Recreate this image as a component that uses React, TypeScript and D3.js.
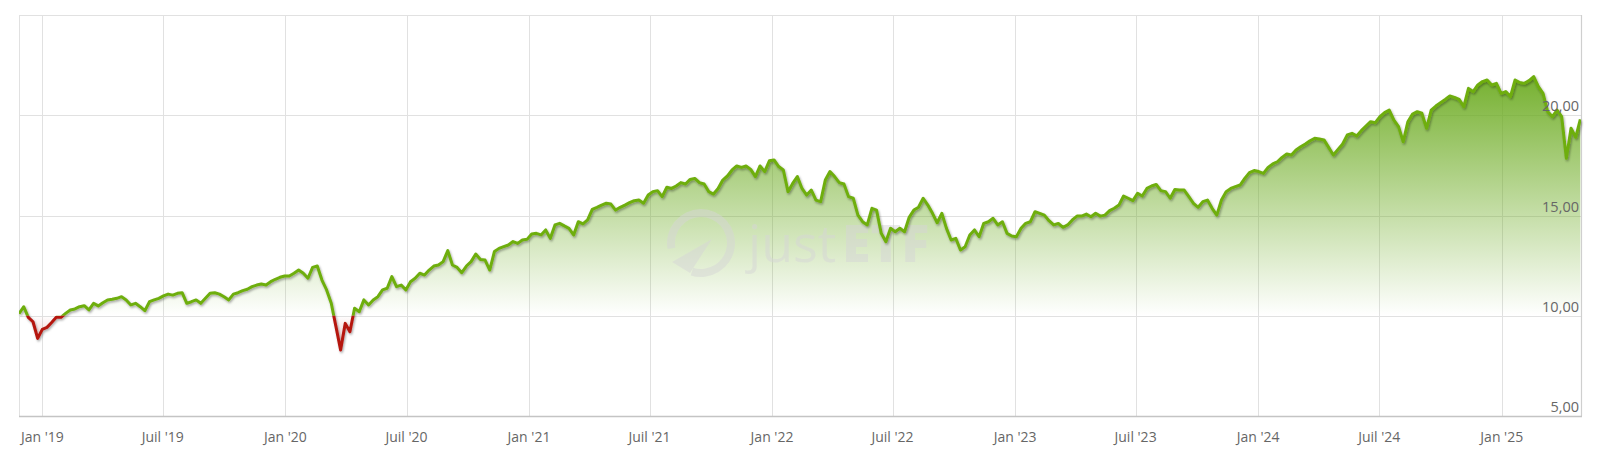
import React from "react";
import * as d3 from "d3";

// ---- data (weekly closes) ----
const START_DATE = "2018-11-27";
const END_DATE = "2025-04-30";
const BASELINE = 10;

const weeklyValues: number[] = [
  10.1, 10.45, 9.92, 9.7, 8.87, 9.32, 9.42, 9.66, 9.92, 9.92,
  10.12, 10.29, 10.34, 10.45, 10.5, 10.29, 10.62, 10.49, 10.65, 10.79,
  10.82, 10.87, 10.95, 10.79, 10.54, 10.62, 10.45, 10.25, 10.7, 10.79,
  10.87, 10.99, 11.08, 11.03, 11.12, 11.15, 10.62, 10.7, 10.79, 10.62,
  10.87, 11.12, 11.15, 11.08, 10.95, 10.79, 11.08, 11.15, 11.25, 11.32,
  11.45, 11.53, 11.58, 11.53, 11.7, 11.82, 11.92, 11.98, 11.98, 12.12,
  12.28, 12.12, 11.87, 12.41, 12.48, 11.78, 11.29, 10.62, 9.46, 8.29,
  9.62, 9.2, 10.37, 10.2, 10.79, 10.54, 10.79, 10.95, 11.29, 11.37,
  11.95, 11.45, 11.53, 11.29, 11.7, 11.87, 12.12, 12.03, 12.28, 12.48,
  12.53, 12.7, 13.25, 12.53, 12.41, 12.15, 12.48, 12.7, 13.08, 12.81,
  12.78, 12.28, 13.2, 13.36, 13.45, 13.53, 13.7, 13.61, 13.78, 13.81,
  14.08, 14.11, 14.03, 14.28, 13.86, 14.53, 14.61, 14.48, 14.36, 14.03,
  14.69, 14.58, 14.78, 15.31, 15.41, 15.52, 15.61, 15.57, 15.27, 15.41,
  15.52, 15.64, 15.74, 15.77, 15.61, 16.02, 16.19, 16.24, 15.94, 16.41,
  16.35, 16.47, 16.64, 16.57, 16.8, 16.85, 16.64, 16.57, 16.19, 16.07,
  16.35, 16.77, 16.97, 17.27, 17.47, 17.4, 17.47, 17.3, 16.94, 17.47,
  17.19, 17.73, 17.77, 17.44, 17.27, 16.19, 16.6, 16.94, 16.35, 16.02,
  16.27, 15.77, 15.69, 16.77, 17.19, 16.94, 16.64, 16.57, 15.94, 15.86,
  15.02, 14.69, 14.53, 15.36, 15.27, 14.11, 13.69, 14.36, 14.19, 14.36,
  14.19, 14.91, 15.27, 15.41, 15.86, 15.52, 15.11, 14.64, 15.11, 14.36,
  13.78, 13.86, 13.28, 13.44, 14.03, 14.28, 13.94, 14.61, 14.69, 14.86,
  14.53, 14.69, 14.11, 13.98, 13.94, 14.36, 14.61, 14.69, 15.19, 15.11,
  15.02, 14.74, 14.53, 14.6, 14.41, 14.53, 14.78, 14.97, 14.97, 15.07,
  14.94, 15.11, 14.97, 15.02, 15.24, 15.36, 15.52, 15.97, 15.86, 15.74,
  16.11, 15.97, 16.35, 16.47, 16.55, 16.24, 16.19, 15.86, 16.3, 16.27,
  16.27, 15.94, 15.61, 15.41, 15.69, 15.77, 15.36, 15.02, 15.77, 16.19,
  16.35, 16.44, 16.52, 16.85, 17.14, 17.24, 17.19, 17.1, 17.4, 17.57,
  17.68, 17.9, 18.07, 18.02, 18.27, 18.43, 18.57, 18.73, 18.85, 18.82,
  18.77, 18.4, 18.02, 18.3, 18.57, 19.02, 19.1, 18.97, 19.23, 19.46,
  19.68, 19.63, 19.93, 20.13, 20.26, 19.76, 19.43, 18.68, 19.68, 20.06,
  20.18, 20.1, 19.35, 20.26, 20.46, 20.63, 20.79, 20.96, 20.89, 20.79,
  20.43, 21.34, 21.18, 21.51, 21.68, 21.76, 21.51, 21.59, 21.09, 21.18,
  20.93, 21.76, 21.63, 21.59, 21.73, 21.93, 21.43, 21.09, 20.18, 19.93,
  20.26, 19.93, 17.85, 19.35, 18.9, 19.8,
];

const yTickValues = [5, 10, 15, 20];
const yTickLabels = ["5,00", "10,00", "15,00", "20,00"];
const Y_DOMAIN = [5, 25];

const xTickDates = [
  "2019-01-01", "2019-07-01", "2020-01-01", "2020-07-01", "2021-01-01",
  "2021-07-01", "2022-01-01", "2022-07-01", "2023-01-01", "2023-07-01",
  "2024-01-01", "2024-07-01", "2025-01-01",
];
const xTickLabels = [
  "Jan '19", "Juil '19", "Jan '20", "Juil '20", "Jan '21",
  "Juil '21", "Jan '22", "Juil '22", "Jan '23", "Juil '23",
  "Jan '24", "Juil '24", "Jan '25",
];

// ---- layout ----
const W = 1600;
const H = 463;
const PL = 19;
const PR = 1581;
const PT = 15;
const PB = 416;

type Pt = { date: Date; value: number };

export default function App() {
  const parse = d3.utcParse("%Y-%m-%d");
  const start = parse(START_DATE) as Date;
  const end = parse(END_DATE) as Date;
  const data: Pt[] = weeklyValues.map((v, i) => ({
    date: d3.utcDay.offset(start, i * 7),
    value: v,
  }));

  const x = d3.scaleUtc().domain([start, end]).range([PL, PR]);
  const y = d3.scaleLinear().domain(Y_DOMAIN).range([PB, PT]);
  const yb = y(BASELINE);

  const lineGen = d3
    .line<Pt>()
    .x((d) => x(d.date))
    .y((d) => y(d.value));
  const areaGen = d3
    .area<Pt>()
    .x((d) => x(d.date))
    .y0(yb)
    .y1((d) => y(d.value));

  const linePath = lineGen(data) || "";
  const areaPath = areaGen(data) || "";
  const maxV = d3.max(weeklyValues) as number;
  const minV = d3.min(weeklyValues) as number;

  const font = "'Open Sans', 'Noto Sans', sans-serif";

  const ringArc = d3
    .arc()
    .innerRadius(26)
    .outerRadius(34)
    .startAngle(-1.75)
    .endAngle(3.45);

  return (
    <div style={{ position: "absolute", left: 0, top: 0, width: W, height: H, background: "#fff" }}>
      <svg width={W} height={H} viewBox={`0 0 ${W} ${H}`} style={{ display: "block" }}>
        <defs>
          <linearGradient id="gUp" gradientUnits="userSpaceOnUse" x1={0} x2={0} y1={y(maxV)} y2={yb}>
            <stop offset="0%" stopColor="#6aaa1e" stopOpacity={0.92} />
            <stop offset="100%" stopColor="#6aaa1e" stopOpacity={0.0} />
          </linearGradient>
          <linearGradient id="gDown" gradientUnits="userSpaceOnUse" x1={0} x2={0} y1={yb} y2={y(minV)}>
            <stop offset="0%" stopColor="#c0221b" stopOpacity={0} />
            <stop offset="100%" stopColor="#c0221b" stopOpacity={0.3} />
          </linearGradient>
          <clipPath id="cUp">
            <rect x={PL} y={0} width={PR - PL} height={yb} />
          </clipPath>
          <clipPath id="cDown">
            <rect x={PL} y={yb} width={PR - PL} height={H - yb} />
          </clipPath>
          <filter id="shadow" x="-5%" y="-20%" width="110%" height="140%">
            <feDropShadow dx={1} dy={1.5} stdDeviation={1} floodColor="#000" floodOpacity={0.35} />
          </filter>
        </defs>

        {/* grid */}
        <g>
          {yTickValues.map((v) => (
            <line key={"gy" + v} x1={PL} x2={PR} y1={Math.round(y(v)) + 0.5} y2={Math.round(y(v)) + 0.5} stroke="#e1e1e1" strokeWidth={1} />
          ))}
          {xTickDates.map((d) => {
            const xx = Math.round(x(parse(d) as Date)) + 0.5;
            return <line key={"gx" + d} x1={xx} x2={xx} y1={PT} y2={PB} stroke="#e1e1e1" strokeWidth={1} />;
          })}
          <line x1={PL} x2={PR} y1={PT + 0.5} y2={PT + 0.5} stroke="#e1e1e1" />
          <line x1={PL + 0.5} x2={PL + 0.5} y1={PT} y2={PB} stroke="#e1e1e1" />
          <line x1={PR + 0.5} x2={PR + 0.5} y1={PT} y2={PB} stroke="#cfcfcf" strokeWidth={1.2} />
        </g>

        {/* areas */}
        <path d={areaPath} fill="url(#gUp)" clipPath="url(#cUp)" />
        <path d={areaPath} fill="url(#gDown)" clipPath="url(#cDown)" />

        {/* watermark */}
        <g opacity={0.5} fill="#d6d6d6">
          <path d={ringArc({} as any) || ""} transform="translate(701,243)" />
          <polygon points="672,262 712,239 690,273" />
          <text x={748} y={262} fontFamily={font} fontSize={52} fontWeight={400}>
            just
          </text>
          <text x={842} y={262} fontFamily={font} fontSize={52} fontWeight={800}>
            ETF
          </text>
        </g>

        {/* line */}
        <g filter="url(#shadow)">
          <path d={linePath} fill="none" stroke="#6eae0c" strokeWidth={3} strokeLinejoin="round" clipPath="url(#cUp)" />
          <path d={linePath} fill="none" stroke="#b5140f" strokeWidth={3} strokeLinejoin="round" clipPath="url(#cDown)" />
        </g>

        {/* bottom axis line */}
        <line x1={PL} x2={PR + 1} y1={PB + 0.5} y2={PB + 0.5} stroke="#c4c4c4" strokeWidth={1.5} />

        {/* x labels */}
        {xTickDates.map((d, i) => (
          <text key={"xl" + d} x={x(parse(d) as Date)} y={442} textAnchor="middle" fontFamily={font} fontSize={14} fill="#666">
            {xTickLabels[i]}
          </text>
        ))}

        {/* y labels */}
        {yTickValues.map((v, i) => (
          <text key={"yl" + v} x={PR - 2} y={y(v) - 4} textAnchor="end" fontFamily={font} fontSize={14.5} fill="#666">
            {yTickLabels[i]}
          </text>
        ))}
      </svg>
    </div>
  );
}
